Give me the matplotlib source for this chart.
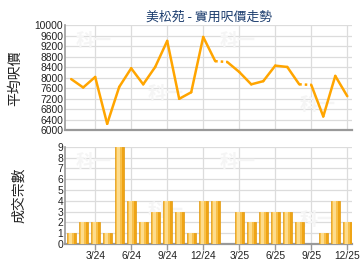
import matplotlib
matplotlib.use("Agg")
import matplotlib.pyplot as plt
import numpy as np

plt.rcParams['font.family'] = ['Noto Sans CJK TC', 'DejaVu Sans']

months = ['1/24','2/24','3/24','4/24','5/24','6/24','7/24','8/24','9/24','10/24','11/24','12/24',
          '1/25','2/25','3/25','4/25','5/25','6/25','7/25','8/25','9/25','10/25','11/25','12/25']
price = [7950, 7630, 8030, 6250, 7650, 8360, 7750, 8410, 9400, 7200, 7450, 9550,
         8630, 8600, 8220, 7750, 7870, 8460, 8410, 7750, 7730, 6530, 8070, 7300]
deals = [1, 2, 2, 1, 9, 4, 2, 3, 4, 3, 1, 4,
         4, 0, 3, 2, 3, 3, 3, 2, 0, 1, 4, 2]
tick_labels = ['3/24','6/24','9/24','12/24','3/25','6/25','9/25','12/25']
title = '美松苑 - 實用呎價走勢'
ylabel_top = '平均呎價'
ylabel_bot = '成交宗數'
watermark = '科一'

x = np.arange(len(months))
tick_pos = [months.index(t) for t in tick_labels]

fig = plt.figure(figsize=(3.6, 2.7), dpi=100)
ax1 = fig.add_axes([0.181, 0.517, 0.797, 0.390])
ax2 = fig.add_axes([0.181, 0.096, 0.797, 0.360])

grid_c = '#DCDCDC'
line_c = '#FFA500'
tick_c = '#222222'
tick_font = ['Liberation Sans', 'DejaVu Sans']

# watermarks
for ax in (ax1, ax2):
    for (wx, wy) in [(0.10, 0.85), (0.60, 0.85), (0.35, 0.35), (0.88, 0.25)]:
        ax.text(wx, wy, watermark, transform=ax.transAxes, fontsize=13,
                fontweight='bold', color='#F5F5F5', ha='center', va='center', zorder=1)

# top: price line
deals_arr = np.array(deals)
for i in range(len(x) - 1):
    dotted = deals_arr[i + 1] == 0
    ax1.plot(x[i:i+2], price[i:i+2], color=line_c, lw=1.8,
             linestyle=(0, (1, 1.2)) if dotted else '-', solid_capstyle='round',
             zorder=3)
ax1.set_ylim(6000, 10000)
ax1.set_yticks(np.arange(6000, 10001, 400))
ax1.set_xlim(-0.5, 23.4)
ax1.set_xticks(tick_pos)
ax1.set_xticklabels([])
ax1.tick_params(axis='x', length=0)
ax1.tick_params(axis='y', length=0, labelsize=7.4, pad=1.5, colors=tick_c)
ax1.grid(True, color=grid_c, lw=0.9)
ax1.set_ylabel(ylabel_top, fontsize=10, color=tick_c)
ax1.yaxis.set_label_coords(-0.15, 0.5)
ax1.set_title(title, fontsize=9.3, color='#1C3D6E', pad=3)

# bottom: deals bars
ax2.bar(x, deals, width=0.74, color='#EFA415', edgecolor='#E39A0E', lw=0.5, zorder=3)
ax2.bar(x, deals, width=0.50, color='#F8C04A', lw=0, zorder=4)
ax2.bar(x - 0.05, deals, width=0.22, color='#FDDC8E', lw=0, zorder=5)
ax2.set_ylim(0, 9)
ax2.set_yticks(range(0, 10))
ax2.set_xlim(-0.5, 23.4)
ax2.set_xticks(tick_pos)
ax2.set_xticklabels(tick_labels)
ax2.tick_params(axis='x', length=4, width=1, color='#999999', labelsize=7.4, pad=1, labelcolor=tick_c)
ax2.tick_params(axis='y', length=0, labelsize=7.4, pad=1.5, colors=tick_c)
ax2.grid(True, color=grid_c, lw=0.9)
ax2.set_ylabel(ylabel_bot, fontsize=10, color=tick_c)
ax2.yaxis.set_label_coords(-0.135, 0.5)

for ax in (ax1, ax2):
    for lab in ax.get_xticklabels() + ax.get_yticklabels():
        lab.set_family(tick_font)
    ax.set_axisbelow(True)
    for s in ('top', 'right'):
        ax.spines[s].set_visible(False)
    ax.spines['left'].set_color('#999999')
    ax.spines['left'].set_linewidth(1.2)
    ax.spines['bottom'].set_color('#999999')
    ax.spines['bottom'].set_linewidth(1.6)

fig.savefig('out.png', dpi=100, facecolor='white')
